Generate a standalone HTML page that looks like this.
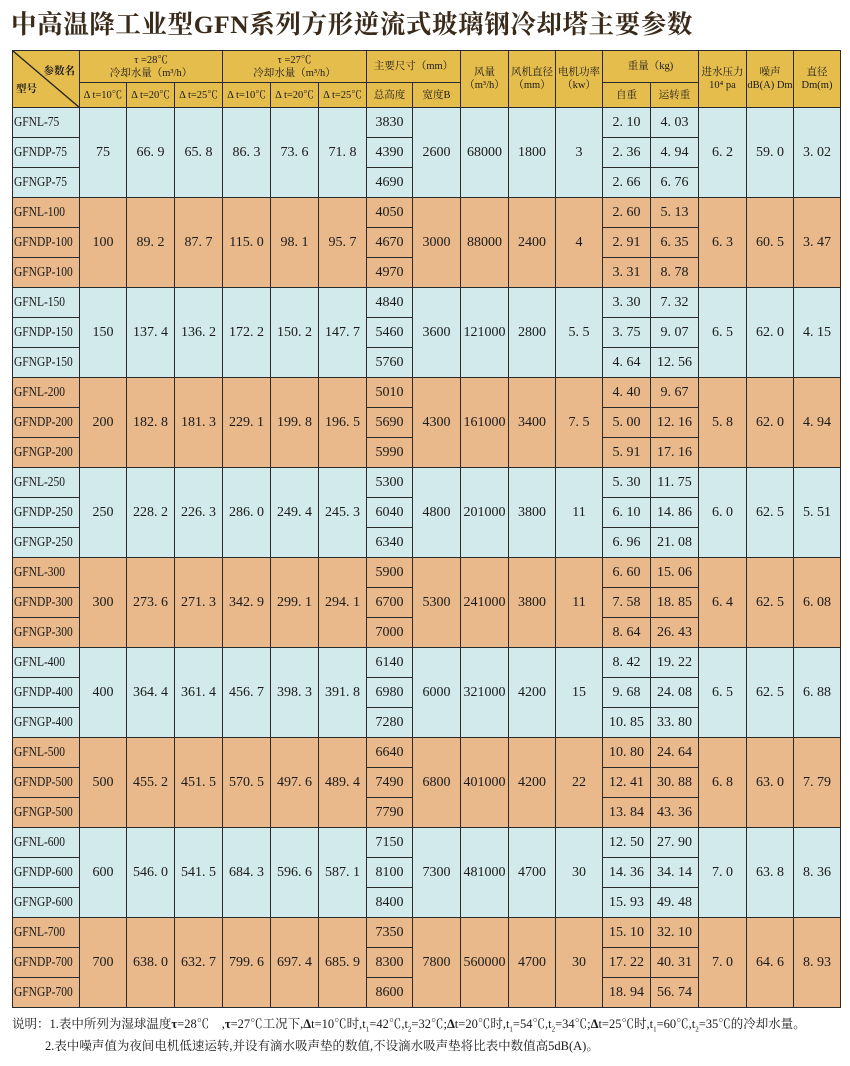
<!DOCTYPE html>
<html><head><meta charset="utf-8"><style>
body{margin:0;background:#fff;width:850px;height:1066px;position:relative;font-family:"Liberation Serif","Noto Serif CJK SC",serif;color:#1a1a1a}
.title{position:absolute;left:11px;top:5px;font-size:25.5px;font-weight:bold;color:#3a2a1a;font-family:"Liberation Serif","Noto Serif CJK SC",serif;white-space:nowrap;letter-spacing:0.6px}
table{position:absolute;left:12px;top:50px;border-collapse:collapse;table-layout:fixed;width:828px}
td{border:1.5px solid #2a2a2a;padding:0;text-align:center;font-size:14px;overflow:hidden;white-space:nowrap}
.h td{background:#e5bd4d;font-size:10.5px;line-height:13px}
.b td{background:#d3eaec}
.o td{background:#e9b98b}
td.m{text-align:left;padding-left:1px;font-size:14px}
td.m span{display:inline-block;transform:scaleX(0.82);transform-origin:left center}
.note{position:absolute;left:12px;top:1016px;font-size:12.5px;line-height:16px;white-space:nowrap}
.note sub{font-size:7px}
</style></head><body>
<div class="title">中高温降工业型GFN系列方形逆流式玻璃钢冷却塔主要参数</div>
<table>
<colgroup><col style="width:67px"><col style="width:47px"><col style="width:48px"><col style="width:48px"><col style="width:48px"><col style="width:48px"><col style="width:48px"><col style="width:46px"><col style="width:48px"><col style="width:48px"><col style="width:47px"><col style="width:47px"><col style="width:48px"><col style="width:48px"><col style="width:48px"><col style="width:47px"><col style="width:47px"></colgroup>
<tr class="h" style="height:32px"><td rowspan="2" style="position:relative"><svg width="67" height="57" style="position:absolute;left:0;top:0"><line x1="0" y1="0" x2="67" y2="57" stroke="#222" stroke-width="1.3"/></svg><span style="position:absolute;right:4px;top:14px;font-weight:bold">参数名</span><span style="position:absolute;left:3px;top:32px;font-weight:bold">型号</span></td>
<td colspan="3">τ =28℃<br>冷却水量（m³/h）</td><td colspan="3">τ =27℃<br>冷却水量（m³/h）</td><td colspan="2">主要尺寸（mm）</td>
<td rowspan="2">风量<br>（m³/h）</td><td rowspan="2">风机直径<br>（mm）</td><td rowspan="2">电机功率<br>（kw）</td><td colspan="2">重量（kg)</td><td rowspan="2">进水压力<br>10⁴ pa</td><td rowspan="2">噪声<br>dB(A) Dm</td><td rowspan="2">直径<br>Dm(m)</td></tr>
<tr class="h" style="height:25px"><td>Δ t=10℃</td><td>Δ t=20℃</td><td>Δ t=25℃</td><td>Δ t=10℃</td><td>Δ t=20℃</td><td>Δ t=25℃</td><td>总高度</td><td>宽度B</td><td>自重</td><td>运转重</td></tr>
<tr class="b" style="height:30px"><td class="m"><span>GFNL-75</span></td><td rowspan="3">75</td><td rowspan="3">66. 9</td><td rowspan="3">65. 8</td><td rowspan="3">86. 3</td><td rowspan="3">73. 6</td><td rowspan="3">71. 8</td><td>3830</td><td rowspan="3">2600</td><td rowspan="3">68000</td><td rowspan="3">1800</td><td rowspan="3">3</td><td>2. 10</td><td>4. 03</td><td rowspan="3">6. 2</td><td rowspan="3">59. 0</td><td rowspan="3">3. 02</td></tr>
<tr class="b" style="height:30px"><td class="m"><span>GFNDP-75</span></td><td>4390</td><td>2. 36</td><td>4. 94</td></tr>
<tr class="b" style="height:30px"><td class="m"><span>GFNGP-75</span></td><td>4690</td><td>2. 66</td><td>6. 76</td></tr>
<tr class="o" style="height:30px"><td class="m"><span>GFNL-100</span></td><td rowspan="3">100</td><td rowspan="3">89. 2</td><td rowspan="3">87. 7</td><td rowspan="3">115. 0</td><td rowspan="3">98. 1</td><td rowspan="3">95. 7</td><td>4050</td><td rowspan="3">3000</td><td rowspan="3">88000</td><td rowspan="3">2400</td><td rowspan="3">4</td><td>2. 60</td><td>5. 13</td><td rowspan="3">6. 3</td><td rowspan="3">60. 5</td><td rowspan="3">3. 47</td></tr>
<tr class="o" style="height:30px"><td class="m"><span>GFNDP-100</span></td><td>4670</td><td>2. 91</td><td>6. 35</td></tr>
<tr class="o" style="height:30px"><td class="m"><span>GFNGP-100</span></td><td>4970</td><td>3. 31</td><td>8. 78</td></tr>
<tr class="b" style="height:30px"><td class="m"><span>GFNL-150</span></td><td rowspan="3">150</td><td rowspan="3">137. 4</td><td rowspan="3">136. 2</td><td rowspan="3">172. 2</td><td rowspan="3">150. 2</td><td rowspan="3">147. 7</td><td>4840</td><td rowspan="3">3600</td><td rowspan="3">121000</td><td rowspan="3">2800</td><td rowspan="3">5. 5</td><td>3. 30</td><td>7. 32</td><td rowspan="3">6. 5</td><td rowspan="3">62. 0</td><td rowspan="3">4. 15</td></tr>
<tr class="b" style="height:30px"><td class="m"><span>GFNDP-150</span></td><td>5460</td><td>3. 75</td><td>9. 07</td></tr>
<tr class="b" style="height:30px"><td class="m"><span>GFNGP-150</span></td><td>5760</td><td>4. 64</td><td>12. 56</td></tr>
<tr class="o" style="height:30px"><td class="m"><span>GFNL-200</span></td><td rowspan="3">200</td><td rowspan="3">182. 8</td><td rowspan="3">181. 3</td><td rowspan="3">229. 1</td><td rowspan="3">199. 8</td><td rowspan="3">196. 5</td><td>5010</td><td rowspan="3">4300</td><td rowspan="3">161000</td><td rowspan="3">3400</td><td rowspan="3">7. 5</td><td>4. 40</td><td>9. 67</td><td rowspan="3">5. 8</td><td rowspan="3">62. 0</td><td rowspan="3">4. 94</td></tr>
<tr class="o" style="height:30px"><td class="m"><span>GFNDP-200</span></td><td>5690</td><td>5. 00</td><td>12. 16</td></tr>
<tr class="o" style="height:30px"><td class="m"><span>GFNGP-200</span></td><td>5990</td><td>5. 91</td><td>17. 16</td></tr>
<tr class="b" style="height:30px"><td class="m"><span>GFNL-250</span></td><td rowspan="3">250</td><td rowspan="3">228. 2</td><td rowspan="3">226. 3</td><td rowspan="3">286. 0</td><td rowspan="3">249. 4</td><td rowspan="3">245. 3</td><td>5300</td><td rowspan="3">4800</td><td rowspan="3">201000</td><td rowspan="3">3800</td><td rowspan="3">11</td><td>5. 30</td><td>11. 75</td><td rowspan="3">6. 0</td><td rowspan="3">62. 5</td><td rowspan="3">5. 51</td></tr>
<tr class="b" style="height:30px"><td class="m"><span>GFNDP-250</span></td><td>6040</td><td>6. 10</td><td>14. 86</td></tr>
<tr class="b" style="height:30px"><td class="m"><span>GFNGP-250</span></td><td>6340</td><td>6. 96</td><td>21. 08</td></tr>
<tr class="o" style="height:30px"><td class="m"><span>GFNL-300</span></td><td rowspan="3">300</td><td rowspan="3">273. 6</td><td rowspan="3">271. 3</td><td rowspan="3">342. 9</td><td rowspan="3">299. 1</td><td rowspan="3">294. 1</td><td>5900</td><td rowspan="3">5300</td><td rowspan="3">241000</td><td rowspan="3">3800</td><td rowspan="3">11</td><td>6. 60</td><td>15. 06</td><td rowspan="3">6. 4</td><td rowspan="3">62. 5</td><td rowspan="3">6. 08</td></tr>
<tr class="o" style="height:30px"><td class="m"><span>GFNDP-300</span></td><td>6700</td><td>7. 58</td><td>18. 85</td></tr>
<tr class="o" style="height:30px"><td class="m"><span>GFNGP-300</span></td><td>7000</td><td>8. 64</td><td>26. 43</td></tr>
<tr class="b" style="height:30px"><td class="m"><span>GFNL-400</span></td><td rowspan="3">400</td><td rowspan="3">364. 4</td><td rowspan="3">361. 4</td><td rowspan="3">456. 7</td><td rowspan="3">398. 3</td><td rowspan="3">391. 8</td><td>6140</td><td rowspan="3">6000</td><td rowspan="3">321000</td><td rowspan="3">4200</td><td rowspan="3">15</td><td>8. 42</td><td>19. 22</td><td rowspan="3">6. 5</td><td rowspan="3">62. 5</td><td rowspan="3">6. 88</td></tr>
<tr class="b" style="height:30px"><td class="m"><span>GFNDP-400</span></td><td>6980</td><td>9. 68</td><td>24. 08</td></tr>
<tr class="b" style="height:30px"><td class="m"><span>GFNGP-400</span></td><td>7280</td><td>10. 85</td><td>33. 80</td></tr>
<tr class="o" style="height:30px"><td class="m"><span>GFNL-500</span></td><td rowspan="3">500</td><td rowspan="3">455. 2</td><td rowspan="3">451. 5</td><td rowspan="3">570. 5</td><td rowspan="3">497. 6</td><td rowspan="3">489. 4</td><td>6640</td><td rowspan="3">6800</td><td rowspan="3">401000</td><td rowspan="3">4200</td><td rowspan="3">22</td><td>10. 80</td><td>24. 64</td><td rowspan="3">6. 8</td><td rowspan="3">63. 0</td><td rowspan="3">7. 79</td></tr>
<tr class="o" style="height:30px"><td class="m"><span>GFNDP-500</span></td><td>7490</td><td>12. 41</td><td>30. 88</td></tr>
<tr class="o" style="height:30px"><td class="m"><span>GFNGP-500</span></td><td>7790</td><td>13. 84</td><td>43. 36</td></tr>
<tr class="b" style="height:30px"><td class="m"><span>GFNL-600</span></td><td rowspan="3">600</td><td rowspan="3">546. 0</td><td rowspan="3">541. 5</td><td rowspan="3">684. 3</td><td rowspan="3">596. 6</td><td rowspan="3">587. 1</td><td>7150</td><td rowspan="3">7300</td><td rowspan="3">481000</td><td rowspan="3">4700</td><td rowspan="3">30</td><td>12. 50</td><td>27. 90</td><td rowspan="3">7. 0</td><td rowspan="3">63. 8</td><td rowspan="3">8. 36</td></tr>
<tr class="b" style="height:30px"><td class="m"><span>GFNDP-600</span></td><td>8100</td><td>14. 36</td><td>34. 14</td></tr>
<tr class="b" style="height:30px"><td class="m"><span>GFNGP-600</span></td><td>8400</td><td>15. 93</td><td>49. 48</td></tr>
<tr class="o" style="height:30px"><td class="m"><span>GFNL-700</span></td><td rowspan="3">700</td><td rowspan="3">638. 0</td><td rowspan="3">632. 7</td><td rowspan="3">799. 6</td><td rowspan="3">697. 4</td><td rowspan="3">685. 9</td><td>7350</td><td rowspan="3">7800</td><td rowspan="3">560000</td><td rowspan="3">4700</td><td rowspan="3">30</td><td>15. 10</td><td>32. 10</td><td rowspan="3">7. 0</td><td rowspan="3">64. 6</td><td rowspan="3">8. 93</td></tr>
<tr class="o" style="height:30px"><td class="m"><span>GFNDP-700</span></td><td>8300</td><td>17. 22</td><td>40. 31</td></tr>
<tr class="o" style="height:30px"><td class="m"><span>GFNGP-700</span></td><td>8600</td><td>18. 94</td><td>56. 74</td></tr>
</table>
<div class="note">说明：1.表中所列为湿球温度<b>τ</b>=28℃　,<b>τ</b>=27℃工况下,<b>Δ</b>t=10℃时,t<sub>1</sub>=42℃,t<sub>2</sub>=32℃;<b>Δ</b>t=20℃时,t<sub>1</sub>=54℃,t<sub>2</sub>=34℃;<b>Δ</b>t=25℃时,t<sub>1</sub>=60℃,t<sub>2</sub>=35℃的冷却水量。<br><span style="padding-left:33px">2.表中噪声值为夜间电机低速运转,并设有滴水吸声垫的数值,不设滴水吸声垫将比表中数值高5dB(A)。</span></div>
</body></html>
